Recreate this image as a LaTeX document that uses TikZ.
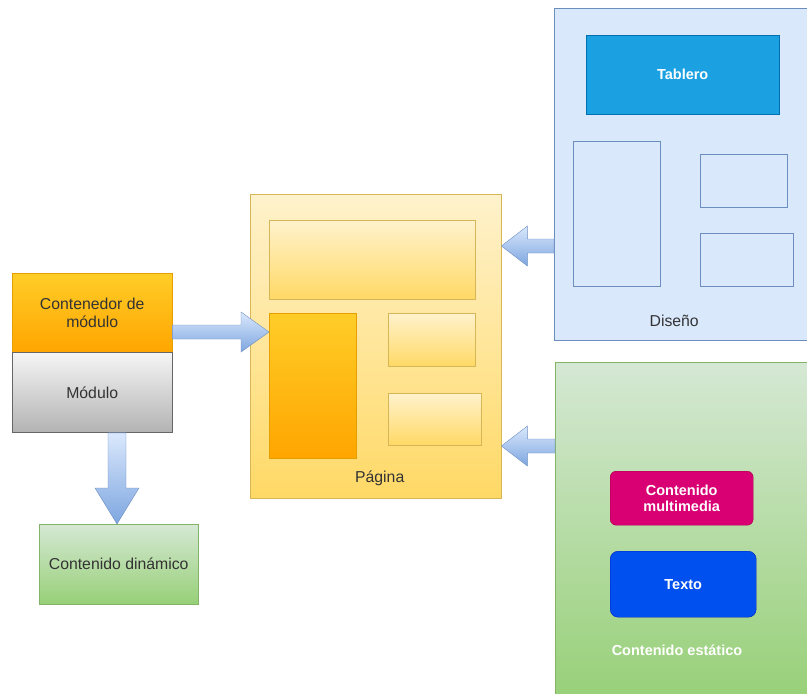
\documentclass[tikz,border=0pt]{standalone}
\usepackage{fontspec}
\setmainfont{Liberation Sans}
\usetikzlibrary{calc,positioning}

\definecolor{orangeTop}{HTML}{FFCD28}
\definecolor{orangeBot}{HTML}{FFA500}
\definecolor{orangeLine}{HTML}{D79B00}
\definecolor{grayTop}{HTML}{F5F5F5}
\definecolor{grayBot}{HTML}{B3B3B3}
\definecolor{grayLine}{HTML}{666666}
\definecolor{greenTop}{HTML}{D5E8D4}
\definecolor{greenBot}{HTML}{97D077}
\definecolor{greenLine}{HTML}{82B366}
\definecolor{yellowTop}{HTML}{FFF2CC}
\definecolor{yellowBot}{HTML}{FFD966}
\definecolor{yellowLine}{HTML}{D6B656}
\definecolor{blueFill}{HTML}{DAE8FC}
\definecolor{blueDark}{HTML}{7EA6E0}
\definecolor{blueLine}{HTML}{6C8EBF}
\definecolor{tableroFill}{HTML}{1BA1E2}
\definecolor{tableroLine}{HTML}{006EAF}
\definecolor{mediaFill}{HTML}{D80073}
\definecolor{mediaLine}{HTML}{A50040}
\definecolor{textoFill}{HTML}{0050EF}
\definecolor{textoLine}{HTML}{001DBC}
\definecolor{darkText}{HTML}{333333}

% block arrow from #2 to #3, [shaft/head/length] in pt
\newcommand{\flexarrow}[3][7/20/26]{\flexarrowdo#1\relax{#2}{#3}}
\def\flexarrowdo#1/#2/#3\relax#4#5{%
  \coordinate (fa-h) at ($(#5)!#3pt!(#4)$);
  \draw[flexarrow] ($(#4)!#1pt!-90:(#5)$) -- ($(fa-h)!#1pt!90:(#4)$)
    -- ($(fa-h)!#2pt!90:(#4)$) -- (#5) -- ($(fa-h)!#2pt!-90:(#4)$)
    -- ($(fa-h)!#1pt!-90:(#4)$) -- ($(#4)!#1pt!90:(#5)$) -- cycle;
}

\begin{document}
\begin{tikzpicture}[
  x=1pt, y=-1pt,
  every node/.style={font=\fontsize{15.8}{18}\selectfont, text=darkText, inner sep=0pt},
  box/.style={draw, anchor=north west, minimum width=#1},
  box/.default=160pt,
  orangebox/.style={top color=orangeTop, bottom color=orangeBot, draw=orangeLine!60!orangeBot},
  graybox/.style={top color=grayTop, bottom color=grayBot, draw=grayLine},
  greenbox/.style={top color=greenTop, bottom color=greenBot, draw=greenLine},
  yellowbox/.style={top color=yellowTop, bottom color=yellowBot, draw=yellowLine},
  bluebox/.style={fill=blueFill, draw=blueLine},
  whitetext/.style={text=white, font=\fontsize{14.5}{16.5}\selectfont\bfseries},
  flexarrow/.style={top color=blueFill, bottom color=blueDark, draw=blueLine}
]
\useasboundingbox (0,0) rectangle (807,694);

% left column
\node[box, orangebox, minimum height=79pt, align=center] (contenedor) at (12,273) {Contenedor de\\módulo};
\node[box, graybox, minimum height=80pt] (modulo) at (contenedor.south west) {Módulo};
\node[box, greenbox, minimum height=80pt, minimum width=159pt] (dinamico) at (39,524) {Contenido dinámico};

% pagina
\node[box=251pt, yellowbox, minimum height=304pt] (pagina) at (250,194) {};
\node[box=206pt, yellowbox, minimum height=79pt] (pagTop) at (269,220) {};
\node[box=87pt, orangebox, minimum height=145pt] (pagLeft) at (269,313) {};
\node[box=87pt, yellowbox, minimum height=53pt] (pagRightA) at (388,313) {};
\node[box=93pt, yellowbox, minimum height=52pt] (pagRightB) at (388,393) {};
\node (pagLbl) at ($(pagina.south)+(4,-20)$) {Página};

% diseno
\node[box=260pt, bluebox, minimum height=332pt] (diseno) at (554,8) {};
\node[box=193pt, fill=tableroFill, draw=tableroLine, minimum height=79pt, whitetext] (tablero) at (586,35) {Tablero};
\node[box=87pt, bluebox, minimum height=145pt] (disLeft) at (573,141) {};
\node[box=87pt, bluebox, minimum height=53pt] (disRightA) at (700,154) {};
\node[box=93pt, bluebox, minimum height=53pt] (disRightB) at (700,233) {};
\node (disLbl) at ($(diseno.south)+(-10,-20)$) {Diseño};

% contenido estatico
\node[box=260pt, greenbox, minimum height=340pt] (estatico) at (555,362) {};
\node[box=143pt, fill=mediaFill, draw=mediaLine, rounded corners=6pt, minimum height=54pt, align=center, whitetext] (multimedia) at (610,471) {Contenido\\multimedia};
\node[box=146pt, fill=textoFill, draw=textoLine, rounded corners=8pt, minimum height=66pt, whitetext] (texto) at (610,551) {Texto};
\node[whitetext] (estLbl) at (677,650) {Contenido estático};

% arrows
\coordinate (a1s) at (contenedor.east |- 0,332);
\coordinate (a1e) at (pagLeft.west |- 0,332);
\flexarrow[7/20/28]{a1s}{a1e}
\coordinate (a2s) at (diseno.west |- 0,246);
\coordinate (a2e) at (pagina.east |- 0,246);
\flexarrow{a2s}{a2e}
\coordinate (a3s) at (estatico.west |- 0,446);
\coordinate (a3e) at (pagina.east |- 0,446);
\flexarrow{a3s}{a3e}
\coordinate (a4s) at (117,0 |- modulo.south);
\coordinate (a4e) at (117,0 |- dinamico.north);
\flexarrow[9/22/36]{a4s}{a4e}
\end{tikzpicture}
\end{document}
